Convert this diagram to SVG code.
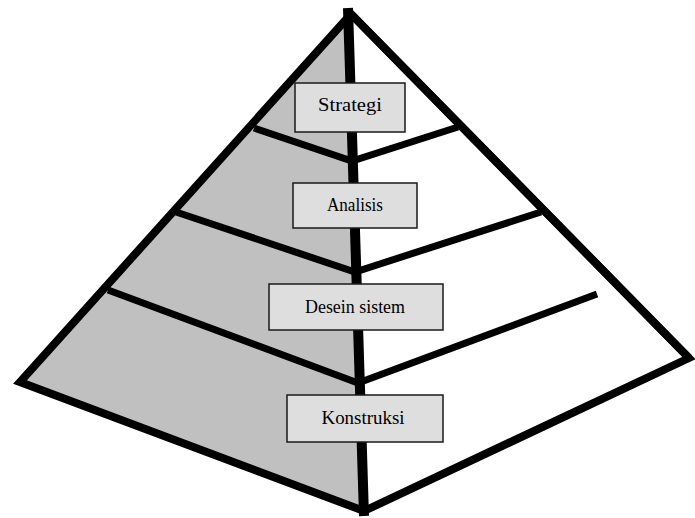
<svg xmlns="http://www.w3.org/2000/svg" width="695" height="518" viewBox="0 0 695 518">
<style>
.edge{fill:none;stroke:#000;stroke-width:8;stroke-linejoin:miter;stroke-linecap:butt}
.band{fill:none;stroke:#000;stroke-width:7;stroke-linecap:butt;stroke-linejoin:miter}
.box{fill:#dedede;stroke:#1a1a1a;stroke-width:1.5}
.lbl{font-family:"Liberation Serif",serif;font-size:18px;fill:#000;text-anchor:middle}
</style>
<rect width="695" height="518" fill="#fff"/>
<g id="shading">
<polygon points="351,14 20,382 362,512 351,14" fill="#c0c0c0"/>
</g>
<g id="pyramid">
<polygon class="edge" points="351,14 20,382 364,511 689,358"/>
<line class="edge" x1="351" y1="14" x2="689" y2="358"/>
</g>
<g id="connectors">
<polyline class="band" points="254,128 352,161 458,127"/>
<polyline class="band" points="176,212 355,272 541,212"/>
<polyline class="band" points="108,290 358,383 597,294"/>
<line x1="348" y1="8" x2="364" y2="516" stroke="#000" stroke-width="10"/>
</g>
<g id="strategi">
<rect class="box" x="295" y="83" width="110" height="49"/>
<text class="lbl" x="350" y="111" textLength="64" lengthAdjust="spacingAndGlyphs">Strategi</text>
</g>
<g id="analisis">
<rect class="box" x="293" y="183" width="124" height="45"/>
<text class="lbl" x="355" y="211" textLength="56" lengthAdjust="spacingAndGlyphs">Analisis</text>
</g>
<g id="desein">
<rect class="box" x="269" y="284" width="174" height="46"/>
<text class="lbl" x="355" y="313" textLength="100" lengthAdjust="spacingAndGlyphs">Desein sistem</text>
</g>
<g id="konstruksi">
<rect class="box" x="287" y="395" width="156" height="47"/>
<text class="lbl" x="363" y="424" textLength="83" lengthAdjust="spacingAndGlyphs">Konstruksi</text>
</g>
</svg>
